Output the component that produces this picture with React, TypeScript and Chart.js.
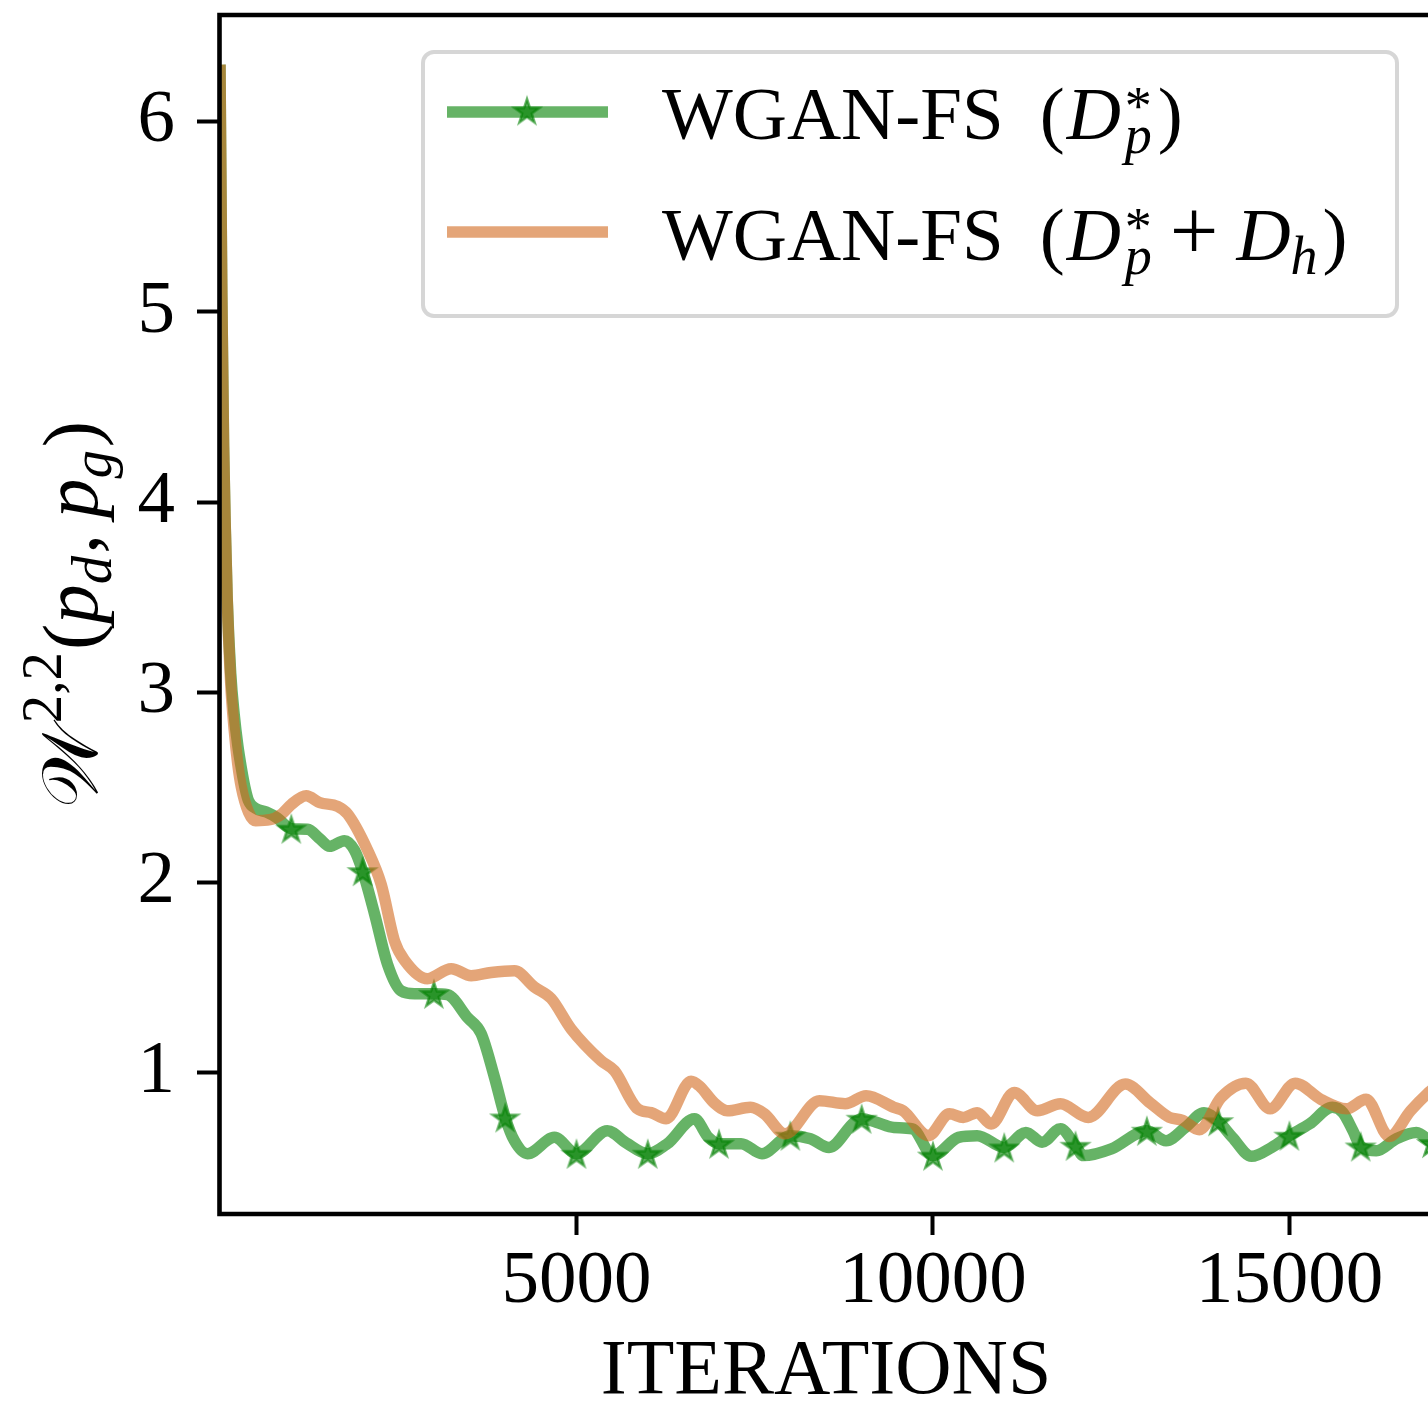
import React, { useEffect, useRef } from 'react';
import { Chart, registerables } from 'chart.js';

Chart.register(...registerables);

// ---------------- data ----------------
const greenIters = [0, 25, 50, 75, 100, 150, 200, 250, 300, 350, 400, 500, 650, 800, 1000, 1228, 1400, 1536, 1746, 1886, 2000, 2167, 2350, 2541, 2728, 3000, 3191, 3471, 3663, 3850, 4000, 4130, 4312, 4691, 5000, 5433, 5700, 6000, 6276, 6655, 6850, 7000, 7310, 7602, 8000, 8282, 8543, 8900, 9000, 9200, 9452, 9712, 10000, 10358, 10621, 11000, 11303, 11530, 11788, 12000, 12110, 12503, 13000, 13270, 13541, 13802, 14000, 14200, 14470, 14750, 15000, 15280, 15603, 15750, 15890, 16000, 16220, 16500, 16780, 17000];
const greenW = [6.30, 5.10, 4.30, 3.85, 3.50, 3.10, 2.88, 2.72, 2.60, 2.50, 2.43, 2.39, 2.37, 2.34, 2.283, 2.28, 2.23, 2.19, 2.22, 2.17, 2.06, 1.836, 1.57, 1.43, 1.415, 1.415, 1.41, 1.29, 1.205, 0.975, 0.765, 0.642, 0.574, 0.66, 0.574, 0.695, 0.63, 0.574, 0.627, 0.758, 0.66, 0.627, 0.627, 0.574, 0.669, 0.653, 0.607, 0.74, 0.758, 0.74, 0.712, 0.705, 0.564, 0.66, 0.669, 0.607, 0.686, 0.634, 0.705, 0.616, 0.564, 0.60, 0.695, 0.642, 0.712, 0.79, 0.745, 0.66, 0.56, 0.607, 0.669, 0.73, 0.818, 0.79, 0.695, 0.612, 0.59, 0.653, 0.686, 0.63];

const orangeIters = [0, 25, 50, 75, 100, 150, 200, 250, 300, 400, 500, 700, 865, 1000, 1209, 1400, 1650, 1790, 2070, 2261, 2450, 2590, 2910, 3243, 3523, 3804, 4130, 4411, 4645, 4925, 5346, 5533, 5856, 6047, 6257, 6608, 6725, 6935, 7115, 7440, 7634, 7925, 8408, 8770, 9063, 9452, 9582, 9937, 10231, 10426, 10621, 10816, 11140, 11465, 11788, 12179, 12698, 13050, 13316, 13500, 13737, 14042, 14390, 14730, 15080, 15440, 15800, 16076, 16400, 16700, 16935, 17000];
const orangeW = [6.30, 5.10, 4.30, 3.85, 3.50, 3.05, 2.80, 2.62, 2.50, 2.37, 2.325, 2.33, 2.36, 2.41, 2.456, 2.42, 2.40, 2.36, 2.17, 1.99, 1.69, 1.59, 1.494, 1.547, 1.51, 1.527, 1.536, 1.45, 1.39, 1.23, 1.063, 1.01, 0.81, 0.79, 0.758, 0.955, 0.93, 0.84, 0.80, 0.818, 0.784, 0.679, 0.853, 0.837, 0.879, 0.818, 0.80, 0.669, 0.784, 0.765, 0.79, 0.73, 0.896, 0.80, 0.837, 0.765, 0.94, 0.84, 0.765, 0.75, 0.70, 0.87, 0.945, 0.81, 0.945, 0.86, 0.81, 0.86, 0.665, 0.80, 0.89, 0.91];

const xTickValues = [5000, 10000, 15000];
const yTickValues = [1, 2, 3, 4, 5, 6];
const xRange = [0, 17000];
const yRange = [0.257, 6.561];
const markEvery = 1000;
const seriesNames = ['WGAN-FS', 'WGAN-FS'];
const xTitle = 'ITERATIONS';

// ---------------- styles ----------------
const SERIF = '"Liberation Serif", "DejaVu Serif", serif';
const GREEN = 'rgba(0,128,0,0.6)';
const ORANGE = 'rgba(210,105,30,0.6)';
const FS = 75;
const LW = 11.5;

type Run = { t: string; it?: boolean; s?: number; dy?: number; gap?: number; noAdv?: boolean; fam?: string };

function runsWidth(ctx: CanvasRenderingContext2D, runs: Run[], size: number) {
  let w = 0;
  for (const r of runs) {
    w += r.gap || 0;
    ctx.font = `${r.it ? 'italic ' : ''}${size * (r.s || 1)}px ${r.fam || SERIF}`;
    if (!r.noAdv) w += ctx.measureText(r.t).width;
  }
  return w;
}

function drawRuns(ctx: CanvasRenderingContext2D, runs: Run[], x: number, y: number, size: number) {
  let cx = x;
  for (const r of runs) {
    cx += r.gap || 0;
    ctx.font = `${r.it ? 'italic ' : ''}${size * (r.s || 1)}px ${r.fam || SERIF}`;
    ctx.fillText(r.t, cx, y - (r.dy || 0) * size);
    if (!r.noAdv) cx += ctx.measureText(r.t).width;
  }
}

function makeStar(fill: string) {
  const R = 13;
  const c = document.createElement('canvas');
  c.width = 34;
  c.height = 34;
  const g = c.getContext('2d') as CanvasRenderingContext2D;
  g.translate(17, 18.5);
  g.beginPath();
  for (let i = 0; i < 10; i++) {
    const r = i % 2 === 0 ? R : R * 0.382;
    const a = -Math.PI / 2 + (i * Math.PI) / 5;
    g.lineTo(r * Math.cos(a), r * Math.sin(a));
  }
  g.closePath();
  g.fillStyle = fill;
  g.fill();
  g.lineWidth = 2.5;
  g.strokeStyle = fill;
  g.lineJoin = 'miter';
  g.stroke();
  return c;
}

export default function App() {
  const ref = useRef<HTMLCanvasElement | null>(null);

  useEffect(() => {
    const canvas = ref.current;
    if (!canvas) return;
    const star = makeStar(GREEN);

    const isMark = (c: any) => {
      const raw = c.raw;
      return raw && raw.x > 0 && raw.x % markEvery === 0;
    };

    const framePlugin = {
      id: 'frame',
      afterDatasetsDraw(chart: any) {
        const { ctx, chartArea: a } = chart;
        ctx.save();
        ctx.strokeStyle = '#000';
        ctx.lineWidth = 4.6;
        ctx.lineCap = 'square';
        ctx.beginPath();
        ctx.rect(a.left - 0.5, a.top, a.right - a.left + 0.5, a.bottom - a.top);
        ctx.stroke();
        ctx.restore();
      },
      afterDraw(chart: any) {
        const ctx: CanvasRenderingContext2D = chart.ctx;
        ctx.save();
        // ---- legend ----
        const bx = 423, by = 52, bw = 974, bh = 264;
        ctx.beginPath();
        (ctx as any).roundRect(bx, by, bw, bh, 11);
        ctx.fillStyle = 'rgba(255,255,255,0.8)';
        ctx.fill();
        ctx.lineWidth = 4;
        ctx.strokeStyle = 'rgba(204,204,204,0.8)';
        ctx.stroke();

        const rows = [
          { color: GREEN, y: 112, base: 139, star: true,
            runs: [
              { t: seriesNames[0] },
              { t: '(', gap: 36 },
              { t: 'D', it: true, gap: 2 },
              { t: '*', s: 0.72, dy: 0.2, noAdv: true, gap: 4 },
              { t: 'p', it: true, s: 0.72, dy: -0.19, gap: 0 },
              { t: ')', gap: 6 },
            ] as Run[] },
          { color: ORANGE, y: 232, base: 260, star: false,
            runs: [
              { t: seriesNames[1] },
              { t: '(', gap: 36 },
              { t: 'D', it: true, gap: 2 },
              { t: '*', s: 0.72, dy: 0.2, noAdv: true, gap: 4 },
              { t: 'p', it: true, s: 0.72, dy: -0.19, gap: 0 },
              { t: '+', s: 1.15, gap: 18 },
              { t: 'D', it: true, gap: 18 },
              { t: 'h', it: true, s: 0.72, dy: -0.19, gap: 0 },
              { t: ')', gap: 5 },
            ] as Run[] },
        ];
        for (const r of rows) {
          ctx.beginPath();
          ctx.moveTo(447, r.y);
          ctx.lineTo(608, r.y);
          ctx.strokeStyle = r.color;
          ctx.lineWidth = LW;
          ctx.lineCap = 'butt';
          ctx.stroke();
          if (r.star) ctx.drawImage(star, 527 - 17, r.y - 18.5);
          ctx.fillStyle = '#000';
          ctx.textBaseline = 'alphabetic';
          ctx.textAlign = 'left';
          drawRuns(ctx, r.runs, 662, r.base, FS);
        }

        // ---- y label ----
        const yl: Run[] = [
          { t: '\u{1D4B2}', fam: '"DejaVu Serif", "DejaVu Sans", serif' },
          { t: '2,2', s: 0.72, dy: 0.45, gap: 2 },
          { t: '(', gap: 2 },
          { t: 'p', it: true },
          { t: 'd', it: true, s: 0.72, dy: -0.18 },
          { t: ',', gap: 2 },
          { t: 'p', it: true, gap: 16 },
          { t: 'g', it: true, s: 0.72, dy: -0.18 },
          { t: ')', gap: 3 },
        ];
        const ysize = 79;
        const tw = runsWidth(ctx, yl, ysize);
        ctx.translate(97, 614.5);
        ctx.rotate(-Math.PI / 2);
        ctx.fillStyle = '#000';
        ctx.textBaseline = 'alphabetic';
        drawRuns(ctx, yl, -tw / 2, 0, ysize);
        ctx.restore();
      },
    };

    const chart = new Chart(canvas, {
      type: 'line',
      data: {
        datasets: [
          {
            label: seriesNames[0],
            data: greenIters.map((x, i) => ({ x, y: greenW[i] })),
            borderColor: GREEN,
            backgroundColor: GREEN,
            borderWidth: LW,
            borderJoinStyle: 'round',
            cubicInterpolationMode: 'monotone',
            fill: false,
            pointRadius: (c: any) => (isMark(c) ? 6 : 0),
            pointStyle: (c: any) => (isMark(c) ? star : 'circle'),
            pointHoverRadius: 0,
            pointBorderWidth: 0,
            order: 2,
            clip: 0,
          } as any,
          {
            label: seriesNames[1],
            data: orangeIters.map((x, i) => ({ x, y: orangeW[i] })),
            borderColor: ORANGE,
            backgroundColor: ORANGE,
            borderWidth: LW,
            borderJoinStyle: 'round',
            cubicInterpolationMode: 'monotone',
            fill: false,
            pointRadius: 0,
            pointHoverRadius: 0,
            order: 1,
            clip: 0,
          } as any,
        ],
      },
      options: {
        responsive: false,
        animation: false,
        devicePixelRatio: 1,
        events: [],
        layout: { padding: { left: 0, top: 15, right: 8, bottom: 0 } },
        plugins: { legend: { display: false }, tooltip: { enabled: false } },
        scales: {
          x: {
            type: 'linear',
            min: xRange[0],
            max: xRange[1],
            afterBuildTicks: (a: any) => {
              a.ticks = xTickValues.map((v) => ({ value: v }));
            },
            afterFit: (a: any) => {
              a.height = 194;
              a.paddingLeft = 0;
              a.paddingRight = 0;
            },
            grid: { drawOnChartArea: false, drawTicks: true, tickLength: 21, tickWidth: 4, tickColor: '#000' },
            border: { display: false },
            ticks: {
              font: { family: SERIF, size: FS },
              color: '#000',
              padding: 2,
              maxRotation: 0,
              autoSkip: false,
              callback: (v: any) => String(v),
            },
            title: {
              display: true,
              text: xTitle,
              font: { family: SERIF, size: 78, lineHeight: 0.9 },
              color: '#000',
              padding: { top: 0, bottom: 0 },
            },
          },
          y: {
            type: 'linear',
            min: yRange[0],
            max: yRange[1],
            afterBuildTicks: (a: any) => {
              a.ticks = yTickValues.map((v) => ({ value: v }));
            },
            afterFit: (a: any) => {
              a.width = 220;
              a.paddingTop = 0;
              a.paddingBottom = 0;
            },
            grid: { drawOnChartArea: false, drawTicks: true, tickLength: 23, tickWidth: 4, tickColor: '#000' },
            border: { display: false },
            ticks: {
              font: { family: SERIF, size: FS },
              color: '#000',
              padding: 22,
              autoSkip: false,
              callback: (v: any) => String(v),
            },
          },
        },
      } as any,
      plugins: [framePlugin],
    });

    return () => chart.destroy();
  }, []);

  return (
    <div style={{ position: 'fixed', left: 0, top: 0, width: 1428, height: 1408, overflow: 'hidden', background: '#fff' }}>
      <canvas ref={ref} width={1440} height={1408} style={{ display: 'block' }} />
    </div>
  );
}
